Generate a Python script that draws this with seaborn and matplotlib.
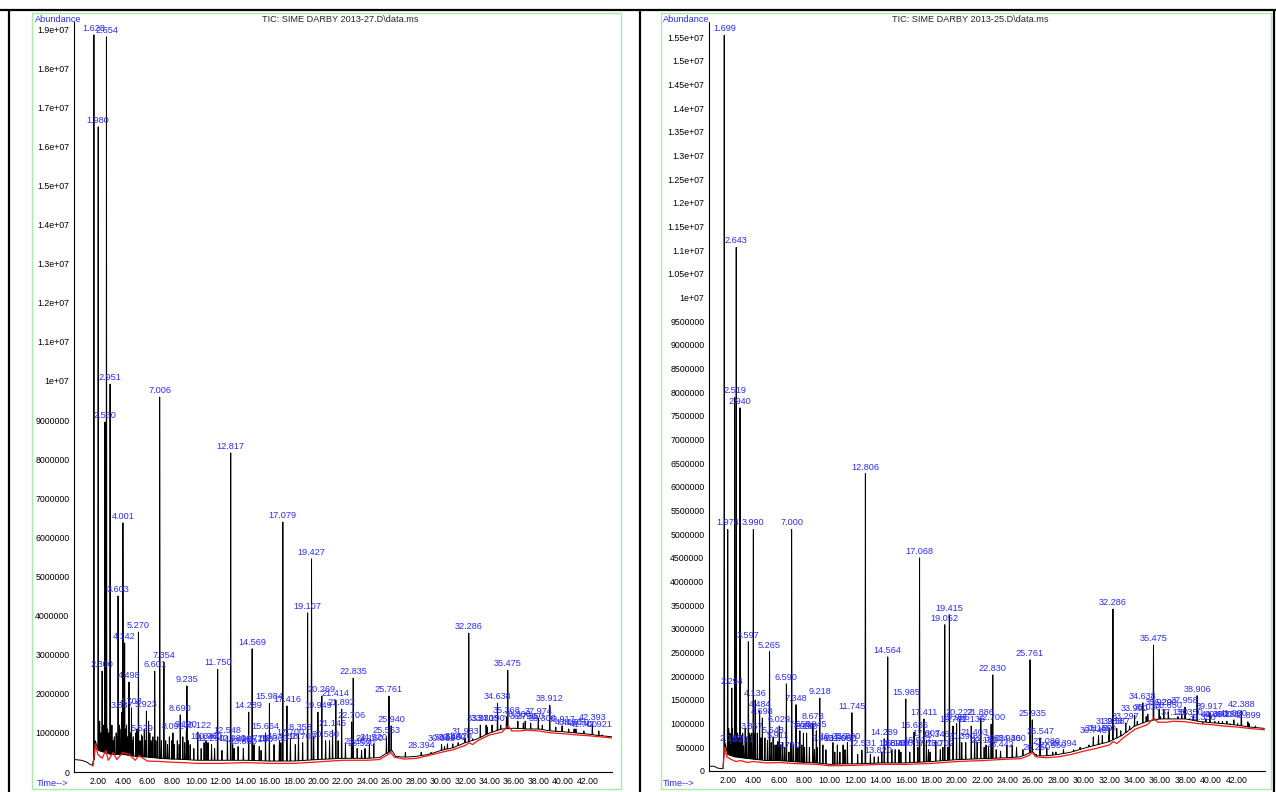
import matplotlib as mpl
import matplotlib.pyplot as plt
from matplotlib.lines import Line2D
from matplotlib.patches import Rectangle
from matplotlib.ticker import FuncFormatter, MultipleLocator, FixedLocator
import seaborn as sns
import pandas as pd
import numpy as np

sns.set_style("white")
plt.rcParams['font.family'] = ['Liberation Sans Narrow', 'Liberation Sans', 'DejaVu Sans']

BLUE = '#2a2aff'
RED = '#ff1414'
GREEN = '#a8eca8'
W, H = 1276, 792
M = 1e6  # abundances below are in millions

# ---------------- SIME DARBY 2013-27 (left) ----------------
left_title = r"TIC: SIME DARBY 2013-27.D\data.ms"
left_peak_rt = [1.628, 1.980, 2.300, 2.530, 2.654, 2.951, 3.603, 3.887, 4.001, 4.142,
                4.498, 4.703, 5.270, 5.529, 5.923, 6.601, 7.006, 7.354, 8.092, 8.690,
                9.190, 9.235, 10.122, 10.640, 10.960, 11.250, 11.750, 12.548, 12.817, 12.980,
                13.420, 13.850, 14.289, 14.569, 14.720, 15.150, 15.664, 15.984, 16.360, 16.920,
                17.079, 17.416, 17.700, 18.358, 18.700, 19.107, 19.427, 19.949, 20.269, 20.580,
                21.145, 21.414, 21.892, 22.706, 22.835, 23.160, 23.520, 24.160, 24.520, 25.553,
                25.761, 25.940, 28.394, 30.062, 30.540, 30.980, 31.420, 31.983, 32.286, 33.230,
                33.705, 34.190, 34.638, 35.368, 35.475, 36.300, 36.750, 37.350, 37.974, 38.300,
                38.912, 39.917, 40.460, 41.050, 41.700, 42.393, 42.921]
left_peak_h = [18.85, 16.5, 2.58, 8.95, 18.8, 9.92, 4.5, 1.53, 6.37, 3.3,
               2.3, 1.64, 3.58, 0.95, 1.56, 2.58, 9.59, 2.81, 1.0, 1.46,
               1.05, 2.2, 1.02, 0.75, 0.75, 0.7, 2.63, 0.9, 8.16, 0.7,
               0.65, 0.6, 1.53, 3.15, 0.7, 0.65, 1.0, 1.76, 0.7, 0.75,
               6.39, 1.69, 0.85, 0.97, 0.75, 4.07, 5.45, 1.53, 1.94, 0.8,
               1.07, 1.84, 1.61, 1.28, 2.4, 0.6, 0.55, 0.7, 0.72, 0.9,
               1.94, 1.18, 0.5, 0.7, 0.72, 0.72, 0.75, 0.87, 3.55, 1.2,
               1.2, 1.2, 1.76, 1.4, 2.6, 1.3, 1.25, 1.25, 1.38, 1.2,
               1.71, 1.18, 1.1, 1.1, 1.05, 1.23, 1.05]
left_minor_rt = [2.10, 2.20, 2.40, 2.60, 2.75, 2.85, 3.10, 3.20, 3.30, 3.45,
                 3.55, 3.70, 3.75, 3.95, 4.05, 4.20, 4.30, 4.40, 4.60, 4.75,
                 4.85, 5.05, 5.15, 5.40, 5.60, 5.75, 5.85, 6.10, 6.20, 6.30,
                 6.45, 6.70, 6.85, 7.15, 7.50, 7.65, 7.80, 8.00, 8.20, 8.45,
                 8.60, 8.90, 9.05, 9.35, 9.50, 9.80, 10.40, 10.80, 11.50, 12.10,
                 13.10, 15.30, 16.80, 18.10, 19.60, 20.90, 21.60, 22.20, 23.80, 27.10,
                 29.20, 30.30, 32.60, 33.80, 34.90, 36.90, 39.40, 40.90, 43.20]
left_minor_h = [1.3, 1.0, 1.2, 0.9, 1.1, 1.0, 1.2, 0.8, 0.9, 1.0,
                0.9, 1.2, 1.1, 1.4, 1.0, 1.1, 1.2, 0.9, 1.0, 0.8,
                0.9, 1.0, 1.1, 0.8, 0.9, 1.1, 0.8, 1.3, 1.0, 0.8,
                0.9, 0.8, 0.9, 0.8, 0.8, 0.7, 0.9, 0.8, 0.7, 0.8,
                0.7, 0.9, 0.75, 0.8, 0.7, 0.6, 0.6, 0.8, 0.6, 0.55,
                0.6, 0.55, 0.8, 0.7, 0.9, 0.8, 0.8, 0.7, 0.6, 0.5,
                0.5, 0.65, 0.85, 1.15, 1.2, 1.3, 1.15, 1.1, 0.95]
left_base_rt = [0.0, 0.6, 1.0, 1.3, 1.5, 1.6, 1.75, 2.0, 2.5, 3.0, 4.0, 5.0, 6.0, 7.0, 8.0,
                9.0, 10.0, 12.0, 14.0, 16.0, 18.0, 20.0, 22.0, 24.0, 25.0, 25.7, 26.0, 26.3,
                27.0, 28.0, 29.0, 30.0, 31.0, 32.0, 33.0, 34.0, 35.0, 36.0, 37.0, 38.0, 39.0,
                40.0, 41.0, 42.0, 43.0, 44.0]
left_base_h = [0.32, 0.3, 0.26, 0.2, 0.17, 0.2, 0.8, 0.55, 0.5, 0.45, 0.45, 0.4, 0.38, 0.35, 0.33,
               0.32, 0.3, 0.3, 0.3, 0.28, 0.28, 0.32, 0.35, 0.35, 0.37, 0.5, 0.55, 0.4,
               0.38, 0.4, 0.45, 0.55, 0.62, 0.75, 0.85, 1.0, 1.1, 1.12, 1.1, 1.1, 1.05,
               1.03, 1.0, 0.97, 0.93, 0.9]
left_red_rt = [1.55, 1.75, 1.95, 2.3, 2.6, 2.8, 3.2, 3.5, 4.0, 4.5, 5.0, 5.3, 6.0, 7.0, 8.0,
               9.0, 10.0, 12.0, 14.0, 16.0, 18.0, 20.0, 22.0, 24.0, 25.0, 25.7, 25.9, 26.2,
               27.0, 28.0, 29.0, 30.0, 31.0, 32.0, 32.3, 32.6, 33.0, 34.0, 35.0, 35.5, 35.8,
               36.5, 37.0, 38.0, 39.0, 40.0, 41.0, 42.0, 43.0, 44.0]
left_red_h = [0.15, 0.72, 0.45, 0.35, 0.55, 0.3, 0.5, 0.32, 0.5, 0.45, 0.3, 0.42, 0.28, 0.27, 0.25,
              0.24, 0.22, 0.22, 0.24, 0.22, 0.22, 0.26, 0.3, 0.3, 0.32, 0.45, 0.5, 0.38,
              0.33, 0.35, 0.42, 0.5, 0.57, 0.68, 0.75, 0.7, 0.8, 0.95, 1.02, 1.18, 1.05,
              1.05, 1.07, 1.05, 1.0, 0.98, 0.95, 0.93, 0.9, 0.87]

# ---------------- SIME DARBY 2013-25 (right) ----------------
right_title = r"TIC: SIME DARBY 2013-25.D\data.ms"
right_peak_rt = [1.699, 1.974, 2.188, 2.294, 2.519, 2.643, 2.940, 3.221, 3.597, 3.857,
                 3.990, 4.136, 4.484, 4.698, 5.265, 5.548, 5.911, 6.029, 6.590, 6.790,
                 7.000, 7.348, 7.650, 7.930, 8.180, 8.673, 8.945, 9.218, 9.463, 10.250,
                 10.600, 11.050, 11.390, 11.745, 12.531, 12.806, 13.820, 14.289, 14.564, 14.890,
                 15.150, 15.450, 15.985, 16.636, 16.927, 17.068, 17.411, 17.607, 17.770, 18.346,
                 18.702, 19.052, 19.415, 19.702, 19.985, 20.222, 20.390, 21.135, 21.403, 21.886,
                 22.150, 22.300, 22.700, 22.830, 23.442, 23.940, 24.360, 25.761, 25.935, 26.250,
                 26.547, 27.080, 27.550, 28.394, 30.740, 31.150, 31.450, 31.988, 32.286, 32.587,
                 33.297, 33.990, 34.638, 35.030, 35.475, 35.920, 36.290, 36.650, 37.130, 37.958,
                 38.350, 38.906, 39.350, 39.917, 40.300, 40.600, 41.250, 41.800, 42.388, 42.899]
right_peak_h = [15.54, 5.1, 0.55, 1.75, 7.89, 11.06, 7.67, 0.53, 2.73, 0.8,
                5.1, 1.5, 1.27, 1.12, 2.52, 0.72, 0.62, 0.95, 1.84, 0.4,
                5.1, 1.4, 0.85, 0.8, 0.8, 1.01, 0.85, 1.54, 0.55, 0.6,
                0.55, 0.55, 0.6, 1.23, 0.44, 6.28, 0.3, 0.68, 2.41, 0.45,
                0.45, 0.45, 1.52, 0.82, 0.5, 4.5, 1.1, 0.65, 0.45, 0.63,
                0.45, 3.09, 3.3, 0.95, 1.0, 1.1, 0.6, 0.95, 0.68, 1.1,
                0.5, 0.55, 0.99, 2.03, 0.42, 0.55, 0.55, 2.35, 1.08, 0.35,
                0.7, 0.49, 0.4, 0.45, 0.72, 0.75, 0.75, 0.91, 3.42, 0.9,
                1.01, 1.18, 1.44, 1.2, 2.66, 1.3, 1.3, 1.25, 1.1, 1.35,
                1.1, 1.59, 1.0, 1.23, 1.05, 1.05, 1.05, 1.08, 1.27, 1.04]
right_minor_rt = [2.05, 2.15, 2.35, 2.45, 2.75, 2.85, 3.05, 3.15, 3.35, 3.45,
                  3.70, 3.80, 4.05, 4.30, 4.60, 4.90, 5.10, 5.40, 5.70, 5.80,
                  6.15, 6.30, 6.45, 6.95, 7.15, 7.50, 7.80, 8.00, 8.40, 8.80,
                  9.00, 9.70, 10.40, 10.80, 11.20, 12.20, 13.20, 13.50, 14.10, 15.60,
                  16.30, 17.90, 18.90, 19.30, 20.70, 21.60, 22.50, 23.10, 24.70, 25.20,
                  27.80, 29.20, 29.70, 30.40, 32.00, 32.90, 33.60, 34.20, 34.90, 36.00,
                  37.40, 37.70, 38.60, 39.60, 40.90, 41.50, 42.10, 43.00, 43.50]
right_minor_h = [0.9, 0.8, 0.9, 0.7, 0.8, 0.7, 0.75, 0.8, 0.9, 0.7,
                 0.8, 0.75, 0.8, 0.8, 0.7, 0.7, 0.65, 0.6, 0.55, 0.55,
                 0.55, 0.6, 0.5, 0.6, 0.55, 0.5, 0.55, 0.5, 0.5, 0.45,
                 0.5, 0.45, 0.4, 0.4, 0.45, 0.35, 0.35, 0.3, 0.4, 0.4,
                 0.4, 0.4, 0.5, 0.5, 0.6, 0.6, 0.5, 0.45, 0.5, 0.45,
                 0.4, 0.45, 0.5, 0.55, 0.75, 0.85, 0.95, 1.05, 1.15, 1.15,
                 1.15, 1.2, 1.15, 1.1, 1.05, 1.0, 1.0, 1.0, 0.95]
right_base_rt = [0.5, 0.9, 1.2, 1.5, 1.6, 1.75, 2.0, 2.5, 3.0, 4.0, 5.0, 6.0, 7.0, 8.0, 9.0,
                 10.0, 11.0, 12.0, 13.0, 14.0, 16.0, 18.0, 20.0, 22.0, 24.0, 25.0, 25.7, 26.0,
                 26.3, 27.0, 28.0, 29.0, 30.0, 31.0, 32.0, 33.0, 34.0, 35.0, 36.0, 37.0, 38.0,
                 39.0, 40.0, 41.0, 42.0, 43.0, 44.2]
right_base_h = [0.1, 0.1, 0.06, 0.05, 0.05, 0.6, 0.35, 0.3, 0.28, 0.25, 0.22, 0.22, 0.2, 0.18, 0.17,
                0.14, 0.15, 0.15, 0.16, 0.17, 0.17, 0.2, 0.24, 0.26, 0.28, 0.3, 0.38, 0.4,
                0.32, 0.32, 0.35, 0.4, 0.48, 0.55, 0.62, 0.75, 0.95, 1.05, 1.1, 1.1, 1.1,
                1.05, 1.02, 1.0, 0.97, 0.93, 0.9]
right_red_rt = [1.6, 1.75, 1.9, 2.2, 2.6, 3.0, 3.5, 4.0, 5.0, 6.0, 7.0, 8.0, 9.0, 10.0, 12.0,
                14.0, 16.0, 18.0, 20.0, 22.0, 24.0, 25.0, 25.7, 25.9, 26.2, 27.0, 28.0, 29.0,
                30.0, 31.0, 32.0, 32.3, 32.6, 33.0, 34.0, 35.0, 35.5, 35.8, 36.5, 37.0, 38.0,
                39.0, 40.0, 41.0, 42.0, 43.0, 44.2]
right_red_h = [0.05, 0.5, 0.3, 0.25, 0.2, 0.22, 0.18, 0.2, 0.17, 0.18, 0.16, 0.15, 0.14, 0.11, 0.12,
               0.14, 0.14, 0.16, 0.2, 0.22, 0.25, 0.26, 0.33, 0.4, 0.3, 0.28, 0.3, 0.35,
               0.42, 0.48, 0.55, 0.62, 0.58, 0.68, 0.88, 0.98, 1.12, 1.03, 1.03, 1.05, 1.04,
               1.0, 0.98, 0.95, 0.93, 0.9, 0.87]

panels = [
    dict(title=left_title, rt=left_peak_rt, h=left_peak_h, mrt=left_minor_rt, mh=left_minor_h,
         brt=left_base_rt, bh=left_base_h, rrt=left_red_rt, rh=left_red_h,
         box=(74, 612, 22, 772), xlim=(0.0, 44.0), ytop=19.18, ymaj=1e6, ymin=2e5,
         frame=(32, 621, 13, 789), title_x=340, abund_x=35, time_x=37),
    dict(title=right_title, rt=right_peak_rt, h=right_peak_h, mrt=right_minor_rt, mh=right_minor_h,
         brt=right_base_rt, bh=right_base_h, rrt=right_red_rt, rh=right_red_h,
         box=(709, 1265, 22, 771), xlim=(0.5, 44.25), ytop=15.82, ymaj=5e5, ymin=1e5,
         frame=(661, 1271, 13, 789), title_x=970, abund_x=663, time_x=663),
]


def trace(base_rt, base_h, rt, h, w=0.03):
    rt = np.asarray(rt)
    foot = np.interp(rt, base_rt, base_h)
    x = np.concatenate([base_rt, rt - w, rt, rt + w])
    y = np.concatenate([base_h, foot, h, foot])
    order = np.argsort(x, kind='stable')
    return pd.DataFrame({'rt': x[order], 'abund': y[order] * M})


def abund_fmt(v, pos):
    if v >= 1e7:
        return f"{v:g}"
    return f"{int(round(v))}"


fig = plt.figure(figsize=(W / 100, H / 100), dpi=100)

for p in panels:
    x0, x1, y0, y1 = p['box']
    ax = fig.add_axes([x0 / W, 1 - y1 / H, (x1 - x0) / W, (y1 - y0) / H])
    ax.set_facecolor('none')

    black = trace(p['brt'], p['bh'], list(p['rt']) + list(p['mrt']), list(p['h']) + list(p['mh']))
    sns.lineplot(data=black, x='rt', y='abund', estimator=None, sort=False,
                 color='black', lw=0.7, ax=ax)
    red = pd.DataFrame({'rt': p['rrt'], 'abund': np.asarray(p['rh']) * M})
    sns.lineplot(data=red, x='rt', y='abund', estimator=None, sort=False,
                 color=RED, lw=0.9, ax=ax)

    for t, h in zip(p['rt'], p['h']):
        ax.annotate(f"{t:.3f}", (t, h * M), xytext=(0, 1.5), textcoords='offset points',
                    ha='center', va='bottom', fontsize=6.6, color=BLUE)

    ax.set_xlim(*p['xlim'])
    ax.set_ylim(0, p['ytop'] * M)
    ax.set_xlabel('')
    ax.set_ylabel('')
    ax.xaxis.set_major_locator(FixedLocator(np.arange(2, 43, 2)))
    ax.xaxis.set_major_formatter(FuncFormatter(lambda v, pos: f"{v:.2f}"))
    ax.xaxis.set_minor_locator(MultipleLocator(0.5))
    ax.yaxis.set_major_locator(MultipleLocator(p['ymaj']))
    ax.yaxis.set_minor_locator(MultipleLocator(p['ymin']))
    ax.yaxis.set_major_formatter(FuncFormatter(abund_fmt))
    ax.tick_params(axis='both', which='major', direction='out', length=2.5, width=0.7,
                   labelsize=6.3, pad=0.8, colors='black')
    ax.tick_params(axis='both', which='minor', direction='out', length=1.8, width=0.6)
    for s in ('top', 'right'):
        ax.spines[s].set_visible(False)
    for s in ('left', 'bottom'):
        ax.spines[s].set_color('black')
        ax.spines[s].set_linewidth(0.8)

    fx0, fx1, fy0, fy1 = p['frame']
    fig.add_artist(Rectangle((fx0 / W, 1 - fy1 / H), (fx1 - fx0) / W, (fy1 - fy0) / H,
                             transform=fig.transFigure, fill=False, edgecolor=GREEN, lw=1.0))
    fig.text(p['title_x'] / W, 1 - 20 / H, p['title'], ha='center', va='center', fontsize=6.6)
    fig.text(p['abund_x'] / W, 1 - 19 / H, 'Abundance', ha='left', va='center',
             fontsize=6.6, color=BLUE)
    fig.text(p['time_x'] / W, 1 - 784 / H, 'Time-->', ha='left', va='center',
             fontsize=6.6, color=BLUE)

# table frame around the two figures
fig.add_artist(Line2D([0, 1], [1 - 10 / H, 1 - 10 / H], transform=fig.transFigure, color='black', lw=1.6))
for xp in (9, 640, 1274):
    fig.add_artist(Line2D([xp / W, xp / W], [0, 1 - 10 / H], transform=fig.transFigure,
                          color='black', lw=1.6))

fig.savefig('out.png', dpi=100)
